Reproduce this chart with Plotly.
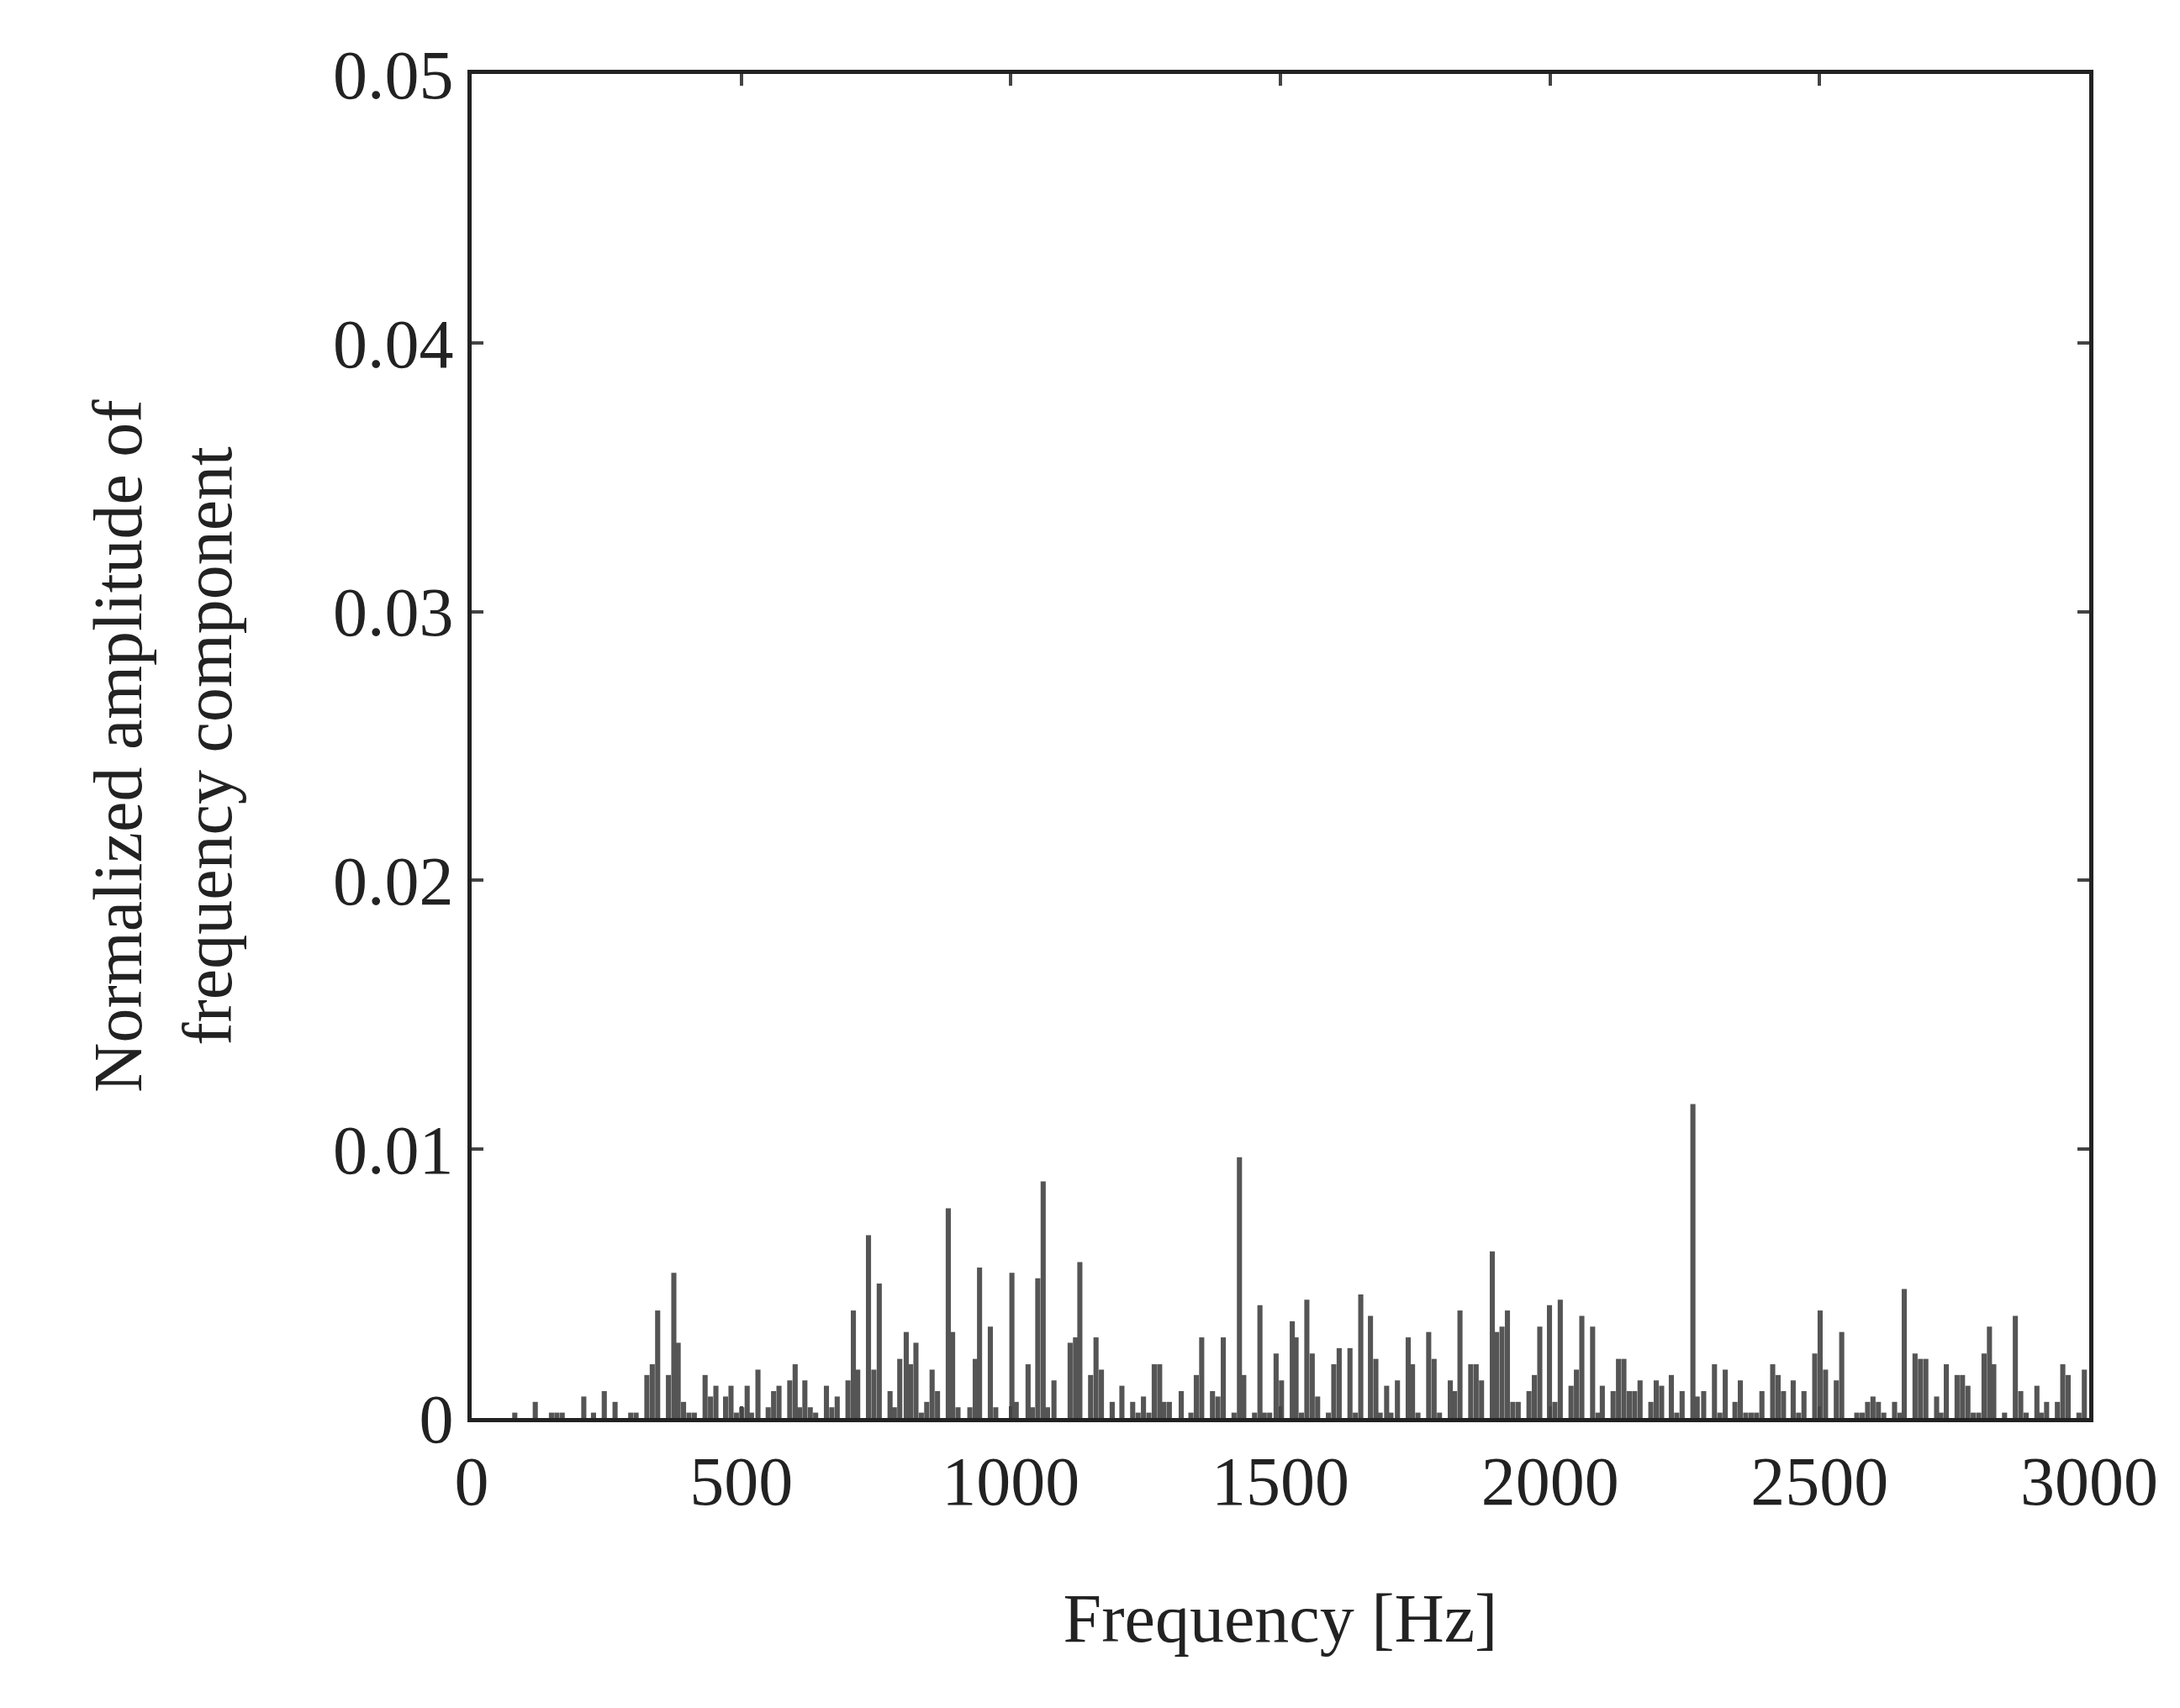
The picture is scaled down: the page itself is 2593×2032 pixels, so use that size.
import plotly.graph_objects as go

# bin start frequency [Hz] and amplitude in units of 0.0002
freq_start = [75, 113, 143, 153, 163, 203, 221, 241, 261, 290, 300, 320, 330, 340, 360, 370, 378, 388, 398, 408,
              428, 438, 448, 466, 476, 486, 496, 506, 514, 526, 545, 555, 565, 585, 595, 603, 613, 623, 633, 653,
              663, 673, 693, 703, 711, 731, 741, 751, 771, 779, 789, 801, 809, 819, 829, 839, 849, 859, 879, 887,
              897, 919, 929, 937, 957, 967, 997, 1005, 1027, 1035, 1045, 1055, 1063, 1075, 1105, 1115, 1123, 1143,
              1153, 1163, 1183, 1201, 1221, 1231, 1241, 1251, 1261, 1271, 1279, 1289, 1311, 1329, 1339, 1349, 1369,
              1379, 1389, 1409, 1419, 1427, 1447, 1457, 1465, 1475, 1487, 1497, 1517,
              1524, 1534, 1544, 1554, 1564, 1584, 1594, 1604, 1624, 1634, 1644, 1662, 1672, 1680, 1692, 1700, 1712,
              1732, 1740, 1750, 1770, 1780, 1790, 1810, 1818, 1828, 1848, 1858, 1868, 1888, 1896, 1906, 1916, 1926,
              1936, 1956, 1966, 1976, 1994, 2004, 2014, 2034, 2044, 2054, 2074, 2084, 2092, 2112, 2122, 2132, 2142,
              2152, 2162, 2182, 2192, 2202, 2220, 2230, 2240, 2260, 2268, 2280, 2300, 2310, 2320, 2338, 2348, 2358,
              2368, 2378, 2388, 2408, 2418, 2428, 2446, 2456, 2466, 2486, 2496, 2506, 2526, 2536, 2564, 2574, 2584,
              2594, 2604, 2614, 2634, 2644, 2652, 2672, 2682, 2692, 2712, 2720, 2730, 2750, 2760, 2770, 2780, 2790,
              2800, 2810, 2818, 2838, 2858, 2868, 2878, 2898, 2906, 2916, 2936, 2946, 2956, 2976, 2986]
level = [1, 3, 1, 1, 1, 4, 1, 5, 3, 1, 1, 8, 10, 20, 8, 27, 14, 3, 1, 1,
         8, 4, 6, 4, 6, 1, 2, 6, 1, 9, 2, 5, 6, 7, 10, 2, 7, 2, 1, 6,
         2, 4, 7, 20, 9, 34, 9, 25, 5, 2, 11, 16, 10, 14, 1, 3, 9, 5, 39, 16,
         2, 2, 11, 28, 17, 2, 27, 3, 10, 2, 26, 44, 2, 7, 14, 15, 29, 8,
         15, 9, 3, 6, 3, 1, 4, 1, 10, 10, 3, 3, 5, 1, 8, 15, 5,
         4, 15, 1, 48.5, 8, 1, 21, 1, 1, 12, 7, 18,
         15, 1, 22, 12, 4, 1, 10, 13, 13, 1, 23, 19, 11, 1, 6, 1, 7,
         15, 10, 1, 16, 11, 1, 7, 5, 20, 10, 10, 7, 31, 16, 17, 20, 3,
         3, 5, 8, 17, 21, 3, 22, 6, 9, 19, 17, 1, 6, 5, 11, 11, 5,
         5, 7, 3, 7, 6, 8, 1, 5, 58.4, 4, 5, 10, 1, 9, 3, 7, 1,
         1, 1, 5, 10, 8, 5, 7, 1, 5, 12, 20, 9, 7, 16, 1, 1, 3,
         4, 3, 1, 3, 1, 24, 12, 11, 11, 4, 1, 10, 8, 8, 6, 1, 1,
         12, 17, 10, 1, 19, 5, 1, 6, 1, 3, 3, 10, 8, 1, 9]

freq = [f + 5 for f in freq_start]
amp = [l * 0.0002 for l in level]

y_ticks = [0, 0.01, 0.02, 0.03, 0.04, 0.05]
y_labels = ['0', '0.01', '0.02', '0.03', '0.04', '0.05']
x_ticks = [0, 500, 1000, 1500, 2000, 2500, 3000]

fig = go.Figure()
fig.add_trace(go.Bar(x=freq, y=amp, width=9.5, marker_color='#555555', marker_line_width=0))

font = dict(family='Liberation Serif', size=82, color='#222222')
fig.update_layout(
    width=2593, height=2032,
    margin=dict(l=553, r=116, t=80, b=353),
    plot_bgcolor='white', paper_bgcolor='white',
    showlegend=False,
    font=font,
    xaxis=dict(range=[0, 3000], tickvals=x_ticks, ticks='inside', ticklen=14, tickwidth=4,
               showline=True, linecolor='#222222', linewidth=5, mirror='ticks', showgrid=False,
               zeroline=False, tickfont=font,
               title=dict(text='Frequency [Hz]', font=font, standoff=90)),
    yaxis=dict(range=[0, 0.05], tickvals=y_ticks, ticktext=y_labels, ticks='inside', ticklen=14,
               tickwidth=4, showline=True, linecolor='#222222', linewidth=5, mirror='ticks',
               showgrid=False, zeroline=False, tickfont=font,
               title=dict(text='Normalized amplitude of<br>frequency component', font=font, standoff=95)),
)

fig.write_html("out.html")
